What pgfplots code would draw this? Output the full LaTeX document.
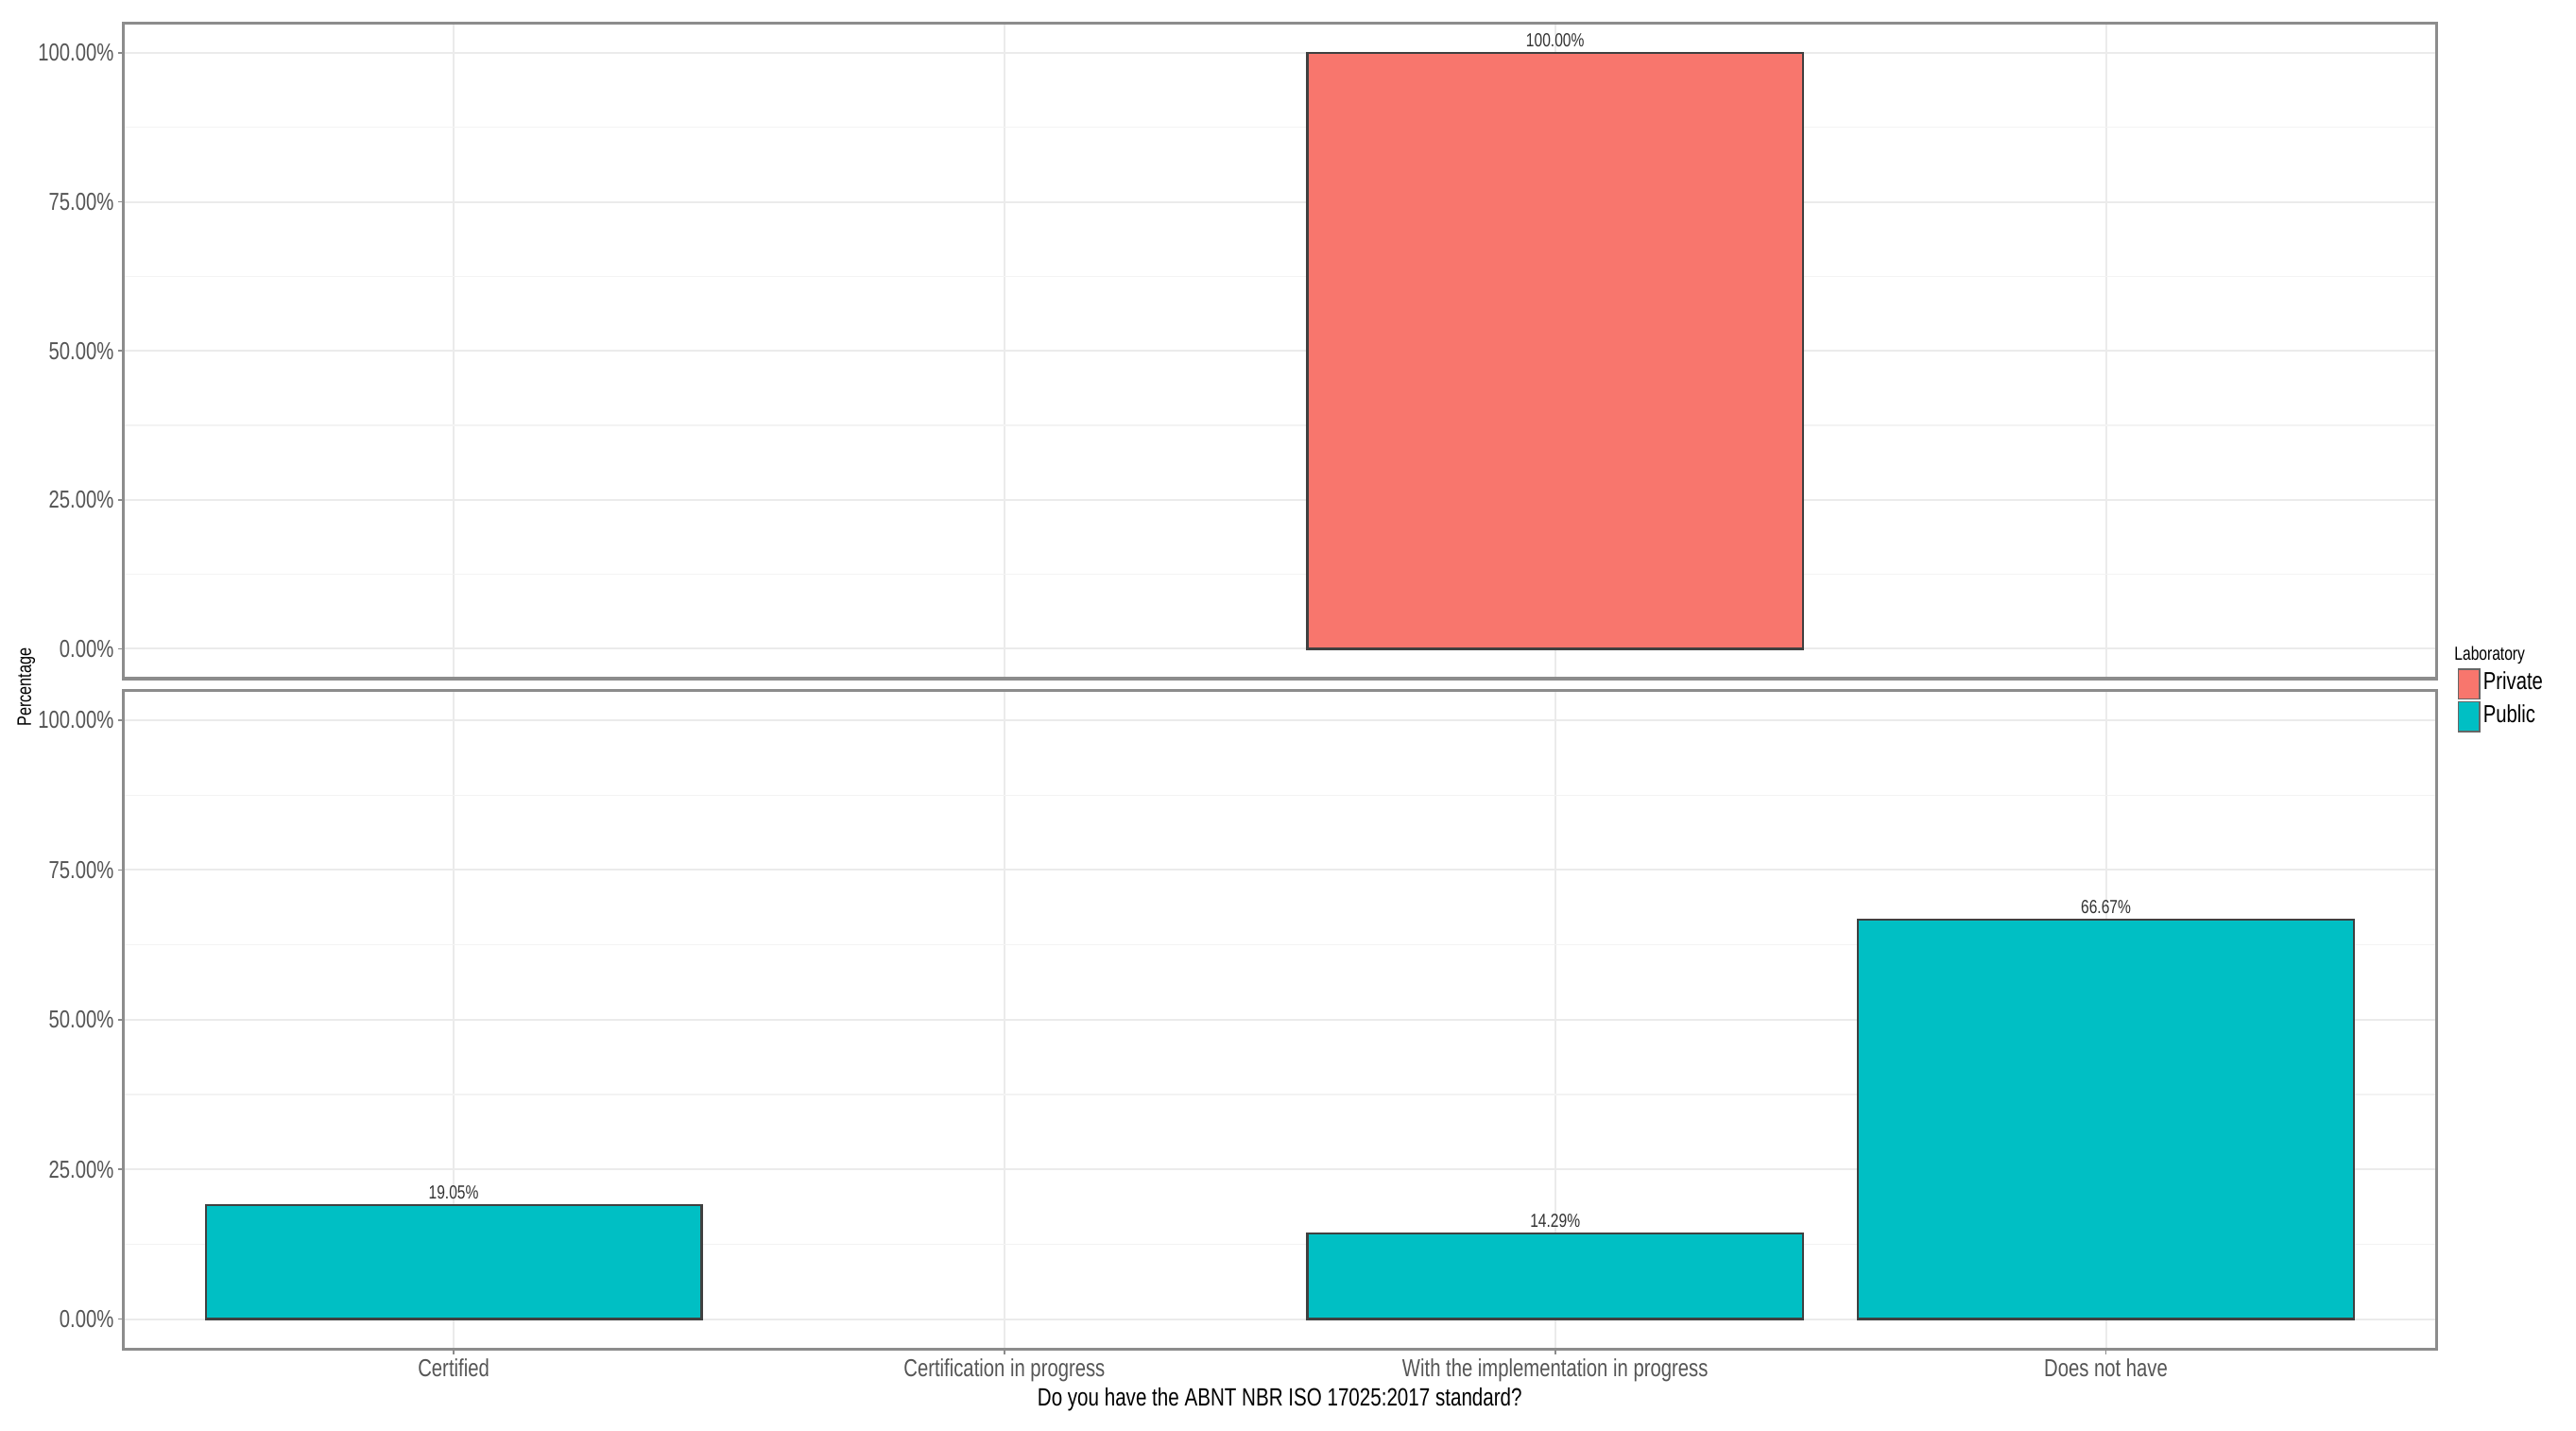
\documentclass[border=0pt]{standalone}
\usepackage{pgfplots}
\pgfplotsset{compat=1.18}
\usepackage{fontspec}
\setmainfont{Liberation Sans}[FakeStretch=0.78]
\definecolor{priv}{HTML}{F8766D}
\definecolor{publ}{HTML}{00BFC4}
\definecolor{tickc}{HTML}{555555}
\definecolor{gridc}{HTML}{EBEBEB}
\definecolor{bordc}{HTML}{8C8C8C}
\pgfplotsset{
  panel/.style={
    scale only axis,
    width=611.95pt,
    xmin=0.4, xmax=4.6, ymin=-5, ymax=105,
    xtick={1,2,3,4},
    ytick={0,25,50,75,100},
    minor ytick={12.5,37.5,62.5,87.5},
    xtick pos=bottom, ytick pos=left,
    xmajorgrids, ymajorgrids, yminorgrids,
    major grid style={draw=gridc, line width=0.5pt},
    minor grid style={draw=gridc!60, line width=0.3pt},
    axis line style={draw=bordc, line width=0.8pt},
    tick align=outside,
    major tick length=1.3pt,
    minor tick length=0pt,
    tick style={draw=bordc, line width=0.4pt},
    /pgf/number format/assume math mode=true,
    yticklabel={\pgfmathprintnumber[fixed,fixed zerofill,precision=2]{\tick}\%},
    ticklabel style={font=\fontsize{6.5}{7}\selectfont, text=tickc, inner sep=1pt},
    ybar, bar width=0.9, bar shift=0pt,
    nodes near coords={\pgfmathprintnumber[fixed,fixed zerofill,precision=2]{\pgfplotspointmeta}\%},
    nodes near coords style={font=\fontsize{5}{6}\selectfont, text=black!80, inner sep=1.2pt, anchor=south},
    clip=false,
  }
}
\begin{document}
\begin{tikzpicture}
\useasboundingbox (0pt,0pt) rectangle (681.5pt,378.25pt);
% top panel (Private)
\begin{axis}[panel, at={(32.6pt,198.75pt)}, anchor=south west, height=173.42pt,
  xticklabels={}, xtick style={draw=none}]
\addplot[fill=priv, draw=black!75, line width=0.6pt] coordinates {(3,100)};
\end{axis}
% bottom panel (Public)
\begin{axis}[panel, at={(32.6pt,21.42pt)}, anchor=south west, height=174.28pt,
  xticklabels={Certified, Certification in progress, With the implementation in progress, Does not have},
  xlabel={Do you have the ABNT NBR ISO 17025:2017 standard?},
  xlabel style={font=\fontsize{6.6}{8}\selectfont, text=black, at={(axis description cs:0.5,-0.077)}, anchor=center},
  legend style={draw=none, fill=none, at={(axis description cs:1.009,1.034)}, anchor=north west,
     font=\fontsize{6.5}{7}\selectfont, row sep=0.6pt, inner sep=0pt,
     nodes={inner sep=0.8pt}},
  legend cell align=left,
  legend image code/.code={\draw[#1] (0pt,-3.9pt) rectangle (5.6pt,3.9pt);},
]
\addlegendimage{fill=priv, draw=black!60, line width=0.3pt}
\addlegendentry{Private}
\addplot[fill=publ, draw=black!75, line width=0.6pt, forget plot] coordinates {(1,19.05) (3,14.29) (4,66.67)};
\addlegendimage{fill=publ, draw=black!60, line width=0.3pt}
\addlegendentry{Public}
\node[font=\fontsize{5}{6}\selectfont, anchor=west, inner sep=0pt] at (axis description cs:1.0075,1.053) {Laboratory};
\end{axis}
\node[rotate=90, font=\fontsize{5.2}{6}\selectfont, text=black, inner sep=0pt] at (7pt,196.5pt) {Percentage};
\end{tikzpicture}
\end{document}
